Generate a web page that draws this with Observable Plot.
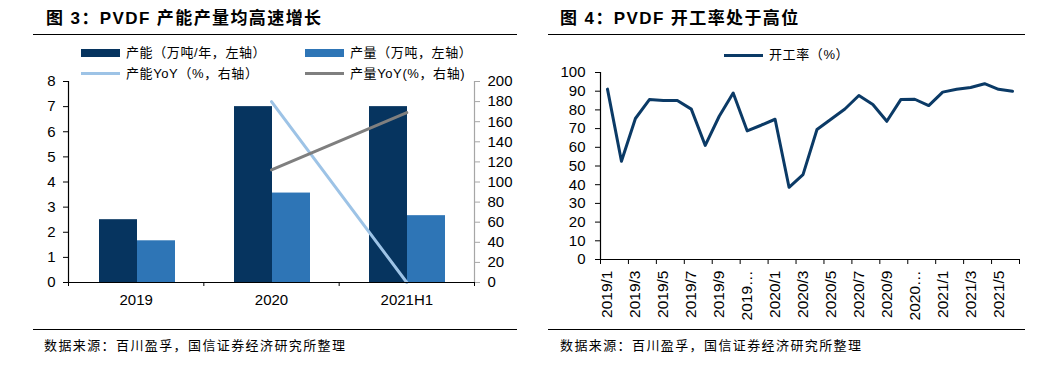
<!DOCTYPE html>
<html lang="zh-CN"><head><meta charset="utf-8">
<script src="https://cdn.jsdelivr.net/npm/d3@7"></script>
<script src="https://cdn.jsdelivr.net/npm/@observablehq/plot@0.6"></script>
<style>
html,body{margin:0;padding:0;background:#fff}
body{width:1063px;height:385px;position:relative;overflow:hidden;font-family:"Liberation Sans","Noto Sans CJK SC",sans-serif;color:#000}
.abs{position:absolute;white-space:nowrap}
.title{font-weight:bold;font-size:17px;letter-spacing:1.4px;line-height:20px}
.rule{position:absolute;height:0;border-top:1.3px solid #000}
.leg{font-size:13px;line-height:16px;letter-spacing:0.6px}
.src{font-size:13px;letter-spacing:1.4px;line-height:16px}
.sw{position:absolute}
svg{position:absolute}
</style></head>
<body>
<div class="abs title" style="left:46px;top:9px">图 3：PVDF 产能产量均高速增长</div>
<div class="rule" style="left:33px;width:484px;top:34px"></div>
<div class="rule" style="left:33px;width:484px;top:329px"></div>
<div class="abs src" style="left:44px;top:338px">数据来源：百川盈孚，国信证券经济研究所整理</div>

<div class="abs title" style="left:560px;top:9px">图 4：PVDF 开工率处于高位</div>
<div class="rule" style="left:548px;width:477px;top:34px"></div>
<div class="rule" style="left:548px;width:477px;top:329px"></div>
<div class="abs src" style="left:560px;top:338px">数据来源：百川盈孚，国信证券经济研究所整理</div>

<div id="legL"></div>
<div id="legR"></div>
<div id="left"></div>
<div id="right"></div>

<script>
// ---- Left chart data ----
const categories = ["2019", "2020", "2021H1"];
const seriesNames = ["产能（万吨/年，左轴）", "产量（万吨，左轴）", "产能YoY（%，右轴）", "产量YoY(%，右轴)"];
const capacity = [2.5, 7.0, 7.0];          // 万吨/年
const output = [1.66, 3.56, 2.66];         // 万吨
const capacityYoY = [null, 180, 0];        // %
const outputYoY = [null, 112, 169];        // %
const leftTicks = [0, 1, 2, 3, 4, 5, 6, 7, 8];
const rightTicks = [0, 20, 40, 60, 80, 100, 120, 140, 160, 180, 200];

// ---- Right chart data ----
const months = ["2019/1","2019/2","2019/3","2019/4","2019/5","2019/6","2019/7","2019/8","2019/9","2019/10","2019/11","2019/12",
  "2020/1","2020/2","2020/3","2020/4","2020/5","2020/6","2020/7","2020/8","2020/9","2020/10","2020/11","2020/12",
  "2021/1","2021/2","2021/3","2021/4","2021/5","2021/6"];
const utilization = [91.1, 52.5, 75.4, 85.5, 85.0, 85.0, 80.4, 61.0, 76.6, 89.0, 68.8, 71.8,
  75.0, 38.6, 45.4, 69.5, 75.0, 80.5, 87.7, 82.9, 73.9, 85.5, 85.7, 82.3,
  89.5, 91.0, 92.0, 94.0, 91.0, 90.0];
const monthLabels = ["2019/1","2019/3","2019/5","2019/7","2019/9","2019…","2020/1","2020/3","2020/5","2020/7","2020/9","2020…","2021/1","2021/3","2021/5"];
const utilTicks = [0, 10, 20, 30, 40, 50, 60, 70, 80, 90, 100];
const utilName = "开工率（%）";

const C = {dark: "#06345f", mid: "#2e75b6", light: "#9dc3e6", grey: "#7f7f7f", line: "#0b3a66"};
const numFont = {fontFamily: "Liberation Sans, Arial, sans-serif", fontSize: "15px", color: "#000", background: "transparent", overflow: "visible"};

// Legends (HTML)
function legItem(parent, x, y, kind, color, text) {
  const sw = document.createElement("div");
  sw.className = "sw";
  if (kind === "rect") {
    Object.assign(sw.style, {left: x + "px", top: (y - 4) + "px", width: "39px", height: "8px", background: color});
  } else {
    Object.assign(sw.style, {left: x + "px", top: (y - 1.5) + "px", width: "39px", height: "3px", background: color});
  }
  parent.appendChild(sw);
  const t = document.createElement("div");
  t.className = "abs leg";
  t.style.left = (x + 45) + "px";
  t.style.top = (y - 8) + "px";
  t.textContent = text;
  parent.appendChild(t);
}
const legL = document.getElementById("legL");
legItem(legL, 81, 53, "rect", C.dark, seriesNames[0]);
legItem(legL, 305, 53, "rect", C.mid, seriesNames[1]);
legItem(legL, 81, 73.5, "line", C.light, seriesNames[2]);
legItem(legL, 305, 73.5, "line", C.grey, seriesNames[3]);
const legR = document.getElementById("legR");
legItem(legR, 724, 55, "line", C.line, utilName);

// Left: bars (faceted)
const bars = categories.flatMap((c, i) => [
  {cat: c, s: "cap", v: capacity[i]},
  {cat: c, s: "out", v: output[i]}
]);
const W = 530, H = 240, mL = 68, mR = 56, mT = 11, mB = 28;
const p1 = Plot.plot({
  width: W, height: H, marginLeft: mL, marginRight: mR, marginTop: mT, marginBottom: mB,
  style: numFont,
  fx: {domain: categories, padding: 0, axis: null},
  x: {domain: ["cap", "out"], paddingInner: 0, paddingOuter: 0.75, axis: null},
  y: {domain: [0, 8], axis: null},
  color: {domain: ["cap", "out"], range: [C.dark, C.mid]},
  marks: [
    Plot.barY(bars, {fx: "cat", x: "s", y: "v", fill: "s"})
  ]
});
// Left: overlay with axes & lines
const idx = categories.map((_, i) => i);
const bounds = [-0.5, 0.5, 1.5, 2.5];
const p2 = Plot.plot({
  width: W, height: H, marginLeft: mL, marginRight: mR, marginTop: mT, marginBottom: mB,
  style: numFont,
  x: {domain: [-0.5, 2.5], axis: null},
  y: {domain: [0, 200], axis: null},
  marks: [
    Plot.lineY(capacityYoY, {x: (d, i) => idx[i], y: d => d, stroke: C.light, strokeWidth: 3}),
    Plot.lineY(outputYoY, {x: (d, i) => idx[i], y: d => d, stroke: C.grey, strokeWidth: 3}),
    Plot.ruleX([-0.5], {stroke: "#000", strokeWidth: 1.2}),
    Plot.ruleX([2.5], {stroke: "#a6a6a6", strokeWidth: 1.2}),
    Plot.axisY(rightTicks, {anchor: "right", tickSize: 5, tickPadding: 8, stroke: "#a6a6a6", label: null}),
    Plot.axisX(bounds, {anchor: "bottom", tickSize: 4, tickFormat: () => "", stroke: "#000"}),
    Plot.axisX(idx, {anchor: "bottom", tickSize: 0, tickPadding: 12, tickFormat: i => categories[i], label: null}),
    Plot.ruleY([0], {stroke: "#000", strokeWidth: 1.2})
  ]
});
// left y axis (0-8) drawn on the bar chart scale
const p3 = Plot.plot({
  width: W, height: H, marginLeft: mL, marginRight: mR, marginTop: mT, marginBottom: mB,
  style: numFont,
  x: {domain: [0, 1], axis: null},
  y: {domain: [0, 8], axis: null},
  marks: [
    Plot.axisY(leftTicks, {anchor: "left", tickSize: 5, tickPadding: 8, stroke: "#000", label: null})
  ]
});
const left = document.getElementById("left");
for (const p of [p1, p2, p3]) {
  p.style.left = "0px"; p.style.top = "70px";
  left.appendChild(p);
}

// Right chart
const RW = 510, RH = 265;
const labelIdx = monthLabels.map((_, k) => k * 2);
const rBounds = d3.range(0, months.length + 1, 2).map(v => v - 0.5);
const p4 = Plot.plot({
  width: RW, height: RH, marginLeft: 70, marginRight: 21, marginTop: 10, marginBottom: 68,
  style: numFont,
  x: {domain: [-0.5, months.length - 0.5], axis: null},
  y: {domain: [0, 100], axis: null},
  marks: [
    Plot.ruleX([-0.5], {stroke: "#000", strokeWidth: 1.2}),
    Plot.ruleY([0], {stroke: "#000", strokeWidth: 1.2}),
    Plot.axisY(utilTicks, {anchor: "left", tickSize: 5, tickPadding: 10, stroke: "#000", label: null}),
    Plot.axisX(rBounds, {anchor: "bottom", tickSize: 5, tickFormat: () => "", stroke: "#000"}),
    Plot.axisX(labelIdx, {anchor: "bottom", tickSize: 0, tickPadding: 11, tickRotate: -90, fontSize: 15.5, tickFormat: v => monthLabels[v / 2], label: null}),
    Plot.lineY(utilization, {x: (d, i) => i, y: d => d, stroke: C.line, strokeWidth: 3, strokeLinejoin: "round"})
  ]
});
p4.style.left = "530px"; p4.style.top = "62px";
document.getElementById("right").appendChild(p4);
</script>
</body></html>
